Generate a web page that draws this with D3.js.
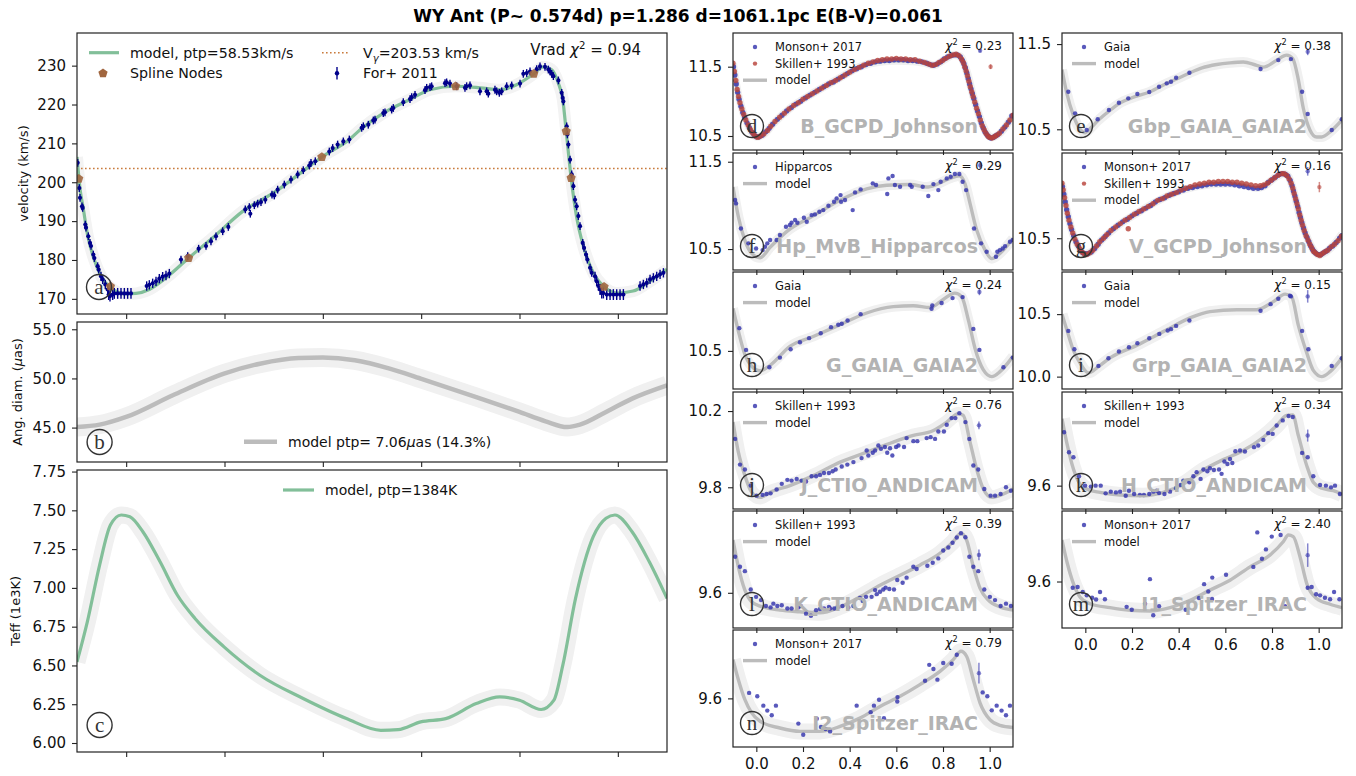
<!DOCTYPE html>
<html><head><meta charset="utf-8">
<script src="https://cdn.jsdelivr.net/npm/d3@7"></script>
<style>body{margin:0;background:#fff}svg text{font-family:"DejaVu Sans",Verdana,sans-serif}</style>
</head><body><svg id="chart" width="1356" height="776"></svg>
<script>
// ---------------- DATA ----------------
const titleText = "WY Ant (P~ 0.574d) p=1.286 d=1061.1pc E(B-V)=0.061";
const phaseTicks = [0.0, 0.2, 0.4, 0.6, 0.8, 1.0];
const vradTicks = [170, 180, 190, 200, 210, 220, 230];
const diamTicks = [45.0, 50.0, 55.0];
const teffTicks = [6.00, 6.25, 6.50, 6.75, 7.00, 7.25, 7.50, 7.75];
const vGamma = 203.53;

const vradModel = [[-0.1,206.5],[-0.093,197.5],[-0.088,193.8],[-0.078,186.1],[-0.065,180.1],[-0.051,175.8],[-0.032,172.9],[-0.015,171.6],[0.0,171.3],[0.02,171.4],[0.047,172.4],[0.081,175.4],[0.127,180.5],[0.176,185.7],[0.237,192.5],[0.305,197.7],[0.359,202.8],[0.398,206.5],[0.454,211.0],[0.476,213.5],[0.523,217.8],[0.577,221.3],[0.618,223.8],[0.670,224.7],[0.72,224.3],[0.76,223.8],[0.794,225.1],[0.829,227.9],[0.848,229.7],[0.865,229.0],[0.879,225.5],[0.888,221.3],[0.895,213.1],[0.905,201.1],[0.916,191.2],[0.93,183.5],[0.95,176.7],[0.972,173.1],[0.998,171.5],[1.031,172.0],[1.065,174.5],[1.1,177.6]];
const vradNodes = [[-0.0965,200.9],[-0.032,173.2],[0.127,180.5],[0.398,206.5],[0.670,224.7],[0.829,227.9],[0.895,213.1],[0.905,201.1],[0.972,173.1]];
const vradData = [[-0.0986,205.0,1],[-0.0953,198.5,1],[-0.0939,196.0,1],[-0.0898,193.8,1],[-0.0885,193.4,1],[-0.0831,189.1,1],[-0.0817,188.3,1],[-0.077,186.1,1],[-0.0736,184.4,1],[-0.0715,183.6,1],[-0.0668,181.4,1],[-0.0647,180.5,1],[-0.058,178.4,1],[-0.0559,177.5,1],[-0.0512,175.8,1.2],[-0.0478,175.0,1.2],[-0.0424,173.7,1.2],[-0.0376,172.4,1.4],[-0.0356,171.1,1.4],[-0.0329,170.7,1.4],[-0.0275,171.1,1.4],[-0.0241,171.4,1.4],[-0.0173,171.4,1.4],[-0.0105,171.4,1.4],[-0.0037,171.4,1.4],[0.003,171.4,1.4],[0.0098,171.4,1.4],[0.0417,173.3,1.2],[0.0471,173.6,1.2],[0.0539,174.0,1.2],[0.0607,174.5,1.2],[0.0674,175.2,1.2],[0.0742,175.7,1.2],[0.081,176.0,1.2],[0.0878,176.5,1.2],[0.1115,180.1,1],[0.1251,181.0,1],[0.1474,182.9,1],[0.1624,183.6,1],[0.1725,184.8,1],[0.1827,186.1,1],[0.1963,187.4,1],[0.2078,188.5,1],[0.2423,193.0,1],[0.2505,193.6,1],[0.2525,191.9,1],[0.2607,194.1,1],[0.2674,194.5,1],[0.2742,194.9,1],[0.283,195.5,1],[0.2966,196.8,1],[0.3013,196.6,1],[0.3081,198.1,1],[0.3217,199.4,1],[0.3352,200.7,1],[0.3488,202.0,1],[0.3603,203.1,1],[0.3725,204.3,1],[0.3759,205.0,1],[0.3847,205.4,1],[0.4132,207.9,1],[0.42,208.8,1],[0.4301,209.7,1],[0.4417,210.5,1],[0.4539,211.0,1],[0.479,214.0,1],[0.4824,214.4,1],[0.4925,214.8,1],[0.5027,215.9,1],[0.5061,216.1,1],[0.523,217.8,1],[0.5264,218.0,1],[0.54,218.7,1],[0.5434,219.1,1],[0.5637,220.6,1],[0.5773,221.4,1],[0.5807,221.9,1],[0.5875,222.5,1],[0.6078,223.7,1],[0.6112,224.3,1],[0.618,224.5,1],[0.6213,224.7,1],[0.6485,225.5,1],[0.6518,225.7,1],[0.6586,225.4,1],[0.6722,224.7,1],[0.6891,224.3,1],[0.6925,224.7,1],[0.6993,224.9,1],[0.7196,223.4,1],[0.7332,223.4,1],[0.7366,222.8,1],[0.7501,223.8,1],[0.7535,223.4,1],[0.759,223.0,1],[0.7637,223.4,1],[0.7739,224.7,1],[0.7841,224.9,1],[0.8011,225.4,1],[0.8078,227.9,1],[0.8146,228.1,1],[0.8214,228.5,1],[0.8349,229.1,1],[0.8417,229.8,1],[0.8519,229.7,1],[0.8587,229.0,1],[0.8621,228.5,1],[0.8655,227.9,1],[0.8689,227.3,1],[0.8791,226.2,1],[0.8858,223.0,1],[0.8879,221.7,1],[0.8892,220.8,1],[0.896,214.4,1],[0.8974,212.3,1],[0.8994,209.7,1],[0.9028,205.8,1],[0.9062,202.0,1],[0.9096,199.0,1],[0.913,195.5,1],[0.9163,193.8,1],[0.9197,191.3,1],[0.9231,188.7,1],[0.9286,184.4,1],[0.9313,183.1,1],[0.9353,181.4,1],[0.938,180.1,1],[0.9435,178.0,1],[0.9469,176.7,1],[0.9536,175.8,1.2],[0.957,174.5,1.2],[0.9604,173.3,1.2],[0.9638,172.4,1.4],[0.9672,171.5,1.4],[0.9706,171.5,1.4],[0.9774,171.1,1.4],[0.9842,171.1,1.4],[0.9909,171.1,1.4],[0.9977,171.1,1.4],[1.0045,171.1,1.4],[1.0113,171.1,1.4],[1.0452,173.3,1.2],[1.052,173.7,1.2],[1.0588,174.1,1.2],[1.0655,175.0,1.2],[1.0723,175.4,1.2],[1.0791,175.8,1.2],[1.0859,176.3,1.2],[1.0927,176.7,1.2]];

const diamModel = [[-0.1,45.06],[-0.054,45.3],[0.0,46.08],[0.095,48.29],[0.199,50.49],[0.272,51.5],[0.351,52.08],[0.40,52.12],[0.465,51.85],[0.536,51.0],[0.599,49.98],[0.712,48.11],[0.8,46.59],[0.853,45.64],[0.897,45.06],[0.923,45.3],[0.976,46.59],[1.029,47.95],[1.1,49.3]];
const teffModel = [[-0.1,6.523],[-0.079,6.781],[-0.054,7.147],[-0.032,7.405],[-0.01,7.47],[0.0076,7.459],[0.034,7.362],[0.069,7.168],[0.104,6.954],[0.14,6.803],[0.199,6.62],[0.272,6.437],[0.36,6.287],[0.448,6.158],[0.518,6.082],[0.553,6.086],[0.599,6.136],[0.65,6.157],[0.712,6.254],[0.76,6.297],[0.80,6.276],[0.844,6.216],[0.87,6.276],[0.888,6.5],[0.914,6.932],[0.95,7.33],[0.976,7.449],[0.994,7.47],[1.029,7.362],[1.064,7.168],[1.1,6.932]];

// B_GCPD_Johnson
const bModel = [[-0.1,11.55],[-0.085,11.22],[-0.065,10.93],[-0.042,10.71],[-0.02,10.56],[0.0,10.49],[0.03,10.52],[0.073,10.68],[0.144,10.90],[0.244,11.12],[0.344,11.31],[0.444,11.50],[0.53,11.57],[0.60,11.585],[0.673,11.58],[0.73,11.545],[0.76,11.52],[0.80,11.59],[0.845,11.67],[0.873,11.65],[0.90,11.45],[0.93,11.07],[0.96,10.75],[0.987,10.54],[1.009,10.48],[1.044,10.54],[1.1,10.80]];
const bMonson = [[-0.098,11.50],[-0.092,11.38],[-0.086,11.25],[-0.08,11.13],[-0.074,11.03],[-0.066,10.93],[-0.058,10.84],[-0.05,10.77],[-0.04,10.69],[-0.03,10.62],[-0.02,10.56],[-0.01,10.52],[0.0,10.49],[0.012,10.49],[0.025,10.51],[0.04,10.56],[0.055,10.61],[0.07,10.67],[0.09,10.74],[0.11,10.80],[0.13,10.86],[0.15,10.91],[0.17,10.96],[0.19,11.00],[0.21,11.05],[0.23,11.09],[0.25,11.13],[0.27,11.17],[0.29,11.21],[0.31,11.25],[0.33,11.28],[0.35,11.32],[0.37,11.36],[0.39,11.40],[0.41,11.44],[0.43,11.47],[0.45,11.50],[0.47,11.53],[0.49,11.55],[0.51,11.57],[0.53,11.58],[0.55,11.59],[0.57,11.59],[0.59,11.60],[0.61,11.60],[0.63,11.60],[0.65,11.59],[0.67,11.59],[0.69,11.58],[0.71,11.57],[0.73,11.55],[0.745,11.53],[0.76,11.52],[0.775,11.54],[0.79,11.57],[0.805,11.61],[0.82,11.64],[0.835,11.66],[0.85,11.67],[0.862,11.67],[0.874,11.64],[0.883,11.59],[0.89,11.54],[0.896,11.48],[0.902,11.41],[0.908,11.33],[0.914,11.25],[0.92,11.18],[0.926,11.11],[0.932,11.04],[0.94,10.95],[0.948,10.86],[0.956,10.78],[0.964,10.69],[0.972,10.62],[0.98,10.56],[0.988,10.52],[0.996,10.49],[1.005,10.47],[1.015,10.48],[1.025,10.50],[1.035,10.52],[1.05,10.57],[1.065,10.63],[1.08,10.70],[1.095,10.79]];
const bSkillen = [[-0.1,11.55],[-0.094,11.43],[-0.088,11.30],[-0.082,11.17],[-0.076,11.07],[-0.07,10.98],[-0.062,10.89],[-0.054,10.81],[-0.045,10.73],[-0.035,10.66],[-0.025,10.59],[-0.015,10.54],[-0.005,10.50],[0.006,10.48],[0.018,10.50],[0.032,10.53],[0.048,10.58],[0.062,10.64],[0.08,10.71],[0.1,10.77],[0.12,10.83],[0.14,10.89],[0.16,10.94],[0.18,10.98],[0.2,11.03],[0.22,11.07],[0.24,11.11],[0.26,11.15],[0.28,11.19],[0.3,11.23],[0.32,11.27],[0.34,11.30],[0.36,11.34],[0.38,11.38],[0.4,11.42],[0.42,11.46],[0.44,11.49],[0.46,11.52],[0.48,11.55],[0.5,11.57],[0.52,11.59],[0.54,11.60],[0.56,11.61],[0.58,11.61],[0.6,11.62],[0.62,11.61],[0.64,11.61],[0.66,11.60],[0.68,11.60],[0.7,11.58],[0.72,11.56],[0.738,11.54],[0.753,11.52],[0.768,11.53],[0.783,11.56],[0.798,11.59],[0.812,11.62],[0.828,11.65],[0.842,11.67],[0.856,11.68],[0.868,11.66],[0.879,11.61],[0.887,11.56],[0.893,11.50],[0.899,11.44],[0.905,11.37],[0.911,11.29],[0.917,11.21],[0.923,11.14],[0.929,11.07],[0.936,10.99],[0.944,10.90],[0.952,10.82],[0.96,10.73],[0.968,10.65],[0.976,10.59],[0.984,10.54],[0.992,10.50],[1.0,10.48],[1.01,10.47],[1.02,10.49],[1.03,10.51],[1.042,10.54],[1.057,10.60],[1.072,10.66],[1.087,10.73],[1.1,10.80]];
const bErrMonson = [[0.959,11.73,0.02]];
const bErrSkillen = [[1.004,11.50,0.035]];

// Gbp_GAIA_GAIA2
const gbpModel = [[-0.1,11.20],[-0.08,10.93],[-0.051,10.66],[-0.025,10.51],[0.0,10.46],[0.025,10.52],[0.053,10.60],[0.1,10.71],[0.144,10.80],[0.2,10.87],[0.277,10.94],[0.35,11.04],[0.391,11.09],[0.446,11.16],[0.5,11.22],[0.563,11.26],[0.62,11.28],[0.677,11.29],[0.734,11.25],[0.763,11.23],[0.82,11.31],[0.863,11.37],[0.889,11.33],[0.913,11.08],[0.934,10.75],[0.963,10.49],[0.991,10.41],[1.013,10.41],[1.049,10.47],[1.1,10.61]];
const gbpGaia = [[-0.073,10.941],[-0.044,10.687],[0.006,10.492],[0.053,10.617],[0.101,10.726],[0.144,10.812],[0.184,10.863],[0.223,10.914],[0.274,10.937],[0.316,11.0],[0.349,11.039],[0.367,11.058],[0.389,11.105],[0.446,11.164],[0.751,11.207],[0.827,11.312],[0.881,11.324],[0.929,10.941],[0.953,10.679],[1.056,10.492],[1.099,10.617]];
const gbpErr = [[0.953,11.41,0.04]];

// Hp_MvB_Hipparcos
const hpModel = [[-0.1,11.21],[-0.077,10.87],[-0.049,10.60],[-0.02,10.45],[0.016,10.40],[0.059,10.52],[0.13,10.70],[0.244,10.88],[0.359,11.06],[0.473,11.19],[0.559,11.23],[0.659,11.24],[0.73,11.21],[0.773,11.24],[0.83,11.31],[0.87,11.34],[0.894,11.25],[0.916,11.02],[0.944,10.72],[0.98,10.49],[1.009,10.39],[1.044,10.45],[1.1,10.62]];
const hpHipparcos = [[-0.091,11.061],[-0.087,11.023],[-0.066,10.736],[-0.034,10.565],[-0.001,10.507],[0.027,10.488],[0.037,10.526],[0.047,10.565],[0.059,10.603],[0.087,10.603],[0.101,10.66],[0.127,10.755],[0.144,10.775],[0.151,10.801],[0.166,10.832],[0.176,10.801],[0.204,10.859],[0.216,10.813],[0.237,10.889],[0.251,10.897],[0.27,10.927],[0.287,10.946],[0.309,10.996],[0.333,11.042],[0.344,11.08],[0.361,11.118],[0.363,11.042],[0.38,11.061],[0.413,10.946],[0.423,11.149],[0.447,11.183],[0.499,11.252],[0.513,11.233],[0.561,11.13],[0.566,11.309],[0.584,11.336],[0.594,11.233],[0.616,11.214],[0.659,11.233],[0.666,11.214],[0.713,11.214],[0.737,11.107],[0.759,11.244],[0.78,11.175],[0.79,11.271],[0.816,11.309],[0.833,11.328],[0.851,11.359],[0.87,11.359],[0.884,11.271],[0.899,11.175],[0.933,10.736],[0.963,10.565],[0.987,10.469],[1.027,10.412],[1.033,10.469],[1.044,10.488],[1.056,10.507],[1.066,10.534],[1.087,10.584],[1.099,10.603]];
const hpErr = [[0.959,11.46,0.04]];

// V_GCPD_Johnson
const vModel = [[-0.1,11.14],[-0.08,10.83],[-0.059,10.60],[-0.03,10.40],[-0.001,10.32],[0.027,10.345],[0.07,10.48],[0.134,10.636],[0.22,10.79],[0.32,10.947],[0.42,11.063],[0.534,11.125],[0.62,11.135],[0.677,11.118],[0.734,11.083],[0.763,11.10],[0.82,11.219],[0.849,11.25],[0.87,11.219],[0.891,11.063],[0.92,10.75],[0.949,10.519],[0.977,10.364],[1.003,10.306],[1.034,10.345],[1.07,10.44],[1.1,10.55]];
const vMonson = [[-0.098,11.10],[-0.092,11.01],[-0.086,10.92],[-0.08,10.83],[-0.073,10.75],[-0.066,10.67],[-0.059,10.60],[-0.05,10.53],[-0.04,10.46],[-0.03,10.41],[-0.02,10.36],[-0.01,10.33],[0.0,10.32],[0.012,10.32],[0.025,10.34],[0.04,10.38],[0.055,10.43],[0.07,10.48],[0.085,10.52],[0.1,10.56],[0.12,10.61],[0.14,10.65],[0.16,10.69],[0.18,10.72],[0.2,10.76],[0.22,10.79],[0.24,10.82],[0.26,10.85],[0.28,10.88],[0.3,10.92],[0.32,10.95],[0.34,10.97],[0.36,11.0],[0.38,11.02],[0.4,11.04],[0.42,11.06],[0.44,11.08],[0.46,11.09],[0.48,11.10],[0.5,11.11],[0.52,11.12],[0.54,11.13],[0.56,11.13],[0.58,11.13],[0.6,11.13],[0.62,11.13],[0.64,11.12],[0.66,11.11],[0.68,11.10],[0.7,11.09],[0.72,11.08],[0.74,11.08],[0.755,11.09],[0.77,11.11],[0.785,11.15],[0.8,11.18],[0.815,11.21],[0.83,11.24],[0.845,11.25],[0.858,11.24],[0.868,11.22],[0.878,11.17],[0.886,11.11],[0.892,11.05],[0.898,10.99],[0.904,10.93],[0.91,10.87],[0.916,10.80],[0.922,10.74],[0.928,10.68],[0.935,10.62],[0.942,10.56],[0.95,10.51],[0.958,10.46],[0.966,10.41],[0.974,10.37],[0.982,10.34],[0.99,10.32],[1.0,10.31],[1.01,10.31],[1.02,10.33],[1.032,10.35],[1.046,10.38],[1.06,10.41],[1.075,10.45],[1.09,10.50],[1.1,10.53]];
const vSkillen = [[-0.1,11.14],[-0.095,11.06],[-0.089,10.97],[-0.083,10.88],[-0.077,10.79],[-0.07,10.71],[-0.062,10.63],[-0.054,10.56],[-0.045,10.49],[-0.035,10.43],[-0.025,10.38],[-0.015,10.34],[-0.005,10.32],[0.006,10.31],[0.018,10.33],[0.032,10.36],[0.048,10.41],[0.062,10.46],[0.078,10.50],[0.092,10.54],[0.11,10.59],[0.13,10.63],[0.15,10.67],[0.17,10.71],[0.184,10.61],[0.19,10.74],[0.21,10.78],[0.23,10.81],[0.25,10.84],[0.27,10.87],[0.29,10.90],[0.31,10.94],[0.33,10.96],[0.35,10.99],[0.37,11.01],[0.39,11.03],[0.41,11.06],[0.43,11.08],[0.45,11.10],[0.47,11.12],[0.49,11.13],[0.51,11.14],[0.53,11.15],[0.55,11.15],[0.57,11.16],[0.59,11.16],[0.61,11.16],[0.63,11.15],[0.65,11.15],[0.67,11.14],[0.69,11.13],[0.71,11.12],[0.73,11.11],[0.75,11.11],[0.765,11.12],[0.78,11.14],[0.795,11.17],[0.81,11.20],[0.825,11.23],[0.84,11.25],[0.852,11.25],[0.863,11.23],[0.873,11.19],[0.882,11.14],[0.889,11.08],[0.895,11.02],[0.901,10.96],[0.907,10.90],[0.913,10.84],[0.919,10.77],[0.925,10.71],[0.931,10.65],[0.938,10.59],[0.946,10.53],[0.954,10.48],[0.962,10.43],[0.97,10.39],[0.978,10.35],[0.986,10.33],[0.995,10.31],[1.005,10.30],[1.015,10.32],[1.026,10.34],[1.039,10.36],[1.053,10.40],[1.068,10.43],[1.083,10.47],[1.097,10.52]];
const vErrMonson = [[0.953,11.277,0.05]];
const vErrSkillen = [[1.003,11.094,0.06]];

// G_GAIA_GAIA2
const gModel = [[-0.1,10.97],[-0.077,10.72],[-0.049,10.46],[-0.02,10.33],[0.016,10.28],[0.059,10.34],[0.144,10.55],[0.244,10.66],[0.359,10.79],[0.473,10.92],[0.587,10.99],[0.673,11.0],[0.744,10.98],[0.801,11.07],[0.851,11.14],[0.88,11.10],[0.909,10.84],[0.937,10.53],[0.973,10.29],[1.009,10.215],[1.044,10.27],[1.1,10.44]];
const gGaia = [[-0.073,10.752],[-0.044,10.511],[0.056,10.319],[0.101,10.426],[0.147,10.519],[0.187,10.596],[0.226,10.641],[0.276,10.696],[0.32,10.763],[0.351,10.789],[0.366,10.80],[0.391,10.837],[0.447,10.907],[0.751,10.967],[0.754,11.004],[0.794,11.03],[0.841,11.085],[0.884,11.096],[0.93,10.744],[0.956,10.511],[1.059,10.319],[1.099,10.426]];
const gErr = [[0.956,11.152,0.035]];

// Grp_GAIA_GAIA2
const grpModel = [[-0.1,10.5],[-0.077,10.36],[-0.051,10.21],[-0.023,10.11],[0.013,10.03],[0.056,10.08],[0.106,10.15],[0.22,10.25],[0.334,10.36],[0.449,10.47],[0.534,10.52],[0.649,10.535],[0.734,10.535],[0.806,10.60],[0.856,10.66],[0.884,10.64],[0.913,10.41],[0.949,10.19],[0.977,10.05],[1.013,10.0],[1.049,10.04],[1.1,10.15]];
const grpGaia = [[-0.073,10.366],[-0.047,10.219],[0.056,10.086],[0.099,10.147],[0.144,10.201],[0.187,10.235],[0.223,10.267],[0.274,10.307],[0.317,10.342],[0.353,10.369],[0.367,10.38],[0.389,10.406],[0.446,10.449],[0.751,10.527],[0.794,10.58],[0.827,10.623],[0.877,10.647],[0.881,10.642],[0.929,10.366],[0.956,10.219],[1.056,10.086],[1.099,10.147]];
const grpErr = [[0.953,10.642,0.05]];

// J_CTIO_ANDICAM
const jModel = [[-0.1,10.142],[-0.077,9.984],[-0.049,9.861],[-0.02,9.774],[0.016,9.747],[0.059,9.774],[0.144,9.809],[0.244,9.861],[0.359,9.932],[0.473,9.984],[0.587,10.037],[0.673,10.072],[0.759,10.098],[0.816,10.142],[0.866,10.186],[0.887,10.177],[0.916,10.037],[0.944,9.896],[0.973,9.791],[1.009,9.747],[1.059,9.765],[1.1,9.791]];
const jSkillen = [[-0.091,10.054],[-0.07,9.919],[-0.049,9.893],[-0.024,9.809],[0.001,9.756],[0.027,9.76],[0.044,9.765],[0.061,9.768],[0.087,9.788],[0.109,9.818],[0.133,9.839],[0.151,9.835],[0.173,9.844],[0.194,9.835],[0.213,9.83],[0.237,9.858],[0.256,9.858],[0.273,9.865],[0.29,9.875],[0.311,9.875],[0.327,9.884],[0.34,9.893],[0.366,9.909],[0.39,9.919],[0.416,9.932],[0.451,9.953],[0.473,9.993],[0.48,9.967],[0.499,9.981],[0.509,9.993],[0.523,10.019],[0.534,10.002],[0.551,10.011],[0.561,9.981],[0.573,10.005],[0.583,9.967],[0.599,10.011],[0.609,10.019],[0.633,10.011],[0.644,10.058],[0.673,10.042],[0.69,10.042],[0.73,10.058],[0.747,10.063],[0.766,10.054],[0.78,10.093],[0.804,10.093],[0.816,10.128],[0.837,10.163],[0.853,10.163],[0.87,10.189],[0.896,10.142],[0.913,10.054],[0.93,9.914],[0.951,9.893],[0.977,9.791],[1.004,9.756],[1.023,9.756],[1.047,9.765],[1.07,9.8],[1.091,9.782]];
const jErr = [[0.954,10.125,0.02]];

// H_CTIO_ANDICAM
const hModel = [[-0.1,9.878],[-0.077,9.767],[-0.051,9.669],[-0.023,9.607],[0.013,9.583],[0.063,9.572],[0.149,9.561],[0.249,9.558],[0.334,9.572],[0.42,9.607],[0.506,9.665],[0.591,9.708],[0.677,9.746],[0.763,9.801],[0.82,9.85],[0.863,9.892],[0.889,9.894],[0.913,9.808],[0.949,9.683],[0.977,9.614],[1.013,9.589],[1.063,9.579],[1.1,9.565]];
const hSkillen = [[-0.091,9.822],[-0.07,9.739],[-0.051,9.718],[-0.027,9.639],[-0.001,9.6],[0.024,9.596],[0.044,9.6],[0.066,9.6],[0.087,9.568],[0.109,9.575],[0.131,9.572],[0.149,9.575],[0.173,9.558],[0.187,9.579],[0.209,9.565],[0.234,9.561],[0.251,9.561],[0.274,9.565],[0.291,9.575],[0.306,9.579],[0.316,9.569],[0.339,9.565],[0.363,9.575],[0.389,9.589],[0.409,9.603],[0.42,9.621],[0.446,9.614],[0.463,9.639],[0.477,9.656],[0.494,9.628],[0.506,9.667],[0.523,9.66],[0.534,9.672],[0.551,9.665],[0.573,9.667],[0.584,9.649],[0.596,9.7],[0.609,9.69],[0.62,9.711],[0.63,9.694],[0.643,9.743],[0.663,9.746],[0.684,9.742],[0.723,9.76],[0.741,9.767],[0.763,9.79],[0.784,9.818],[0.803,9.815],[0.82,9.85],[0.846,9.871],[0.871,9.889],[0.889,9.885],[0.929,9.736],[0.953,9.718],[0.977,9.639],[1.006,9.603],[1.031,9.6],[1.053,9.593],[1.07,9.6],[1.091,9.565]];
const hErr = [[0.953,9.808,0.025]];

// K_CTIO_ANDICAM
const kModel = [[-0.1,9.795],[-0.077,9.696],[-0.049,9.61],[-0.02,9.567],[0.016,9.551],[0.101,9.536],[0.187,9.53],[0.273,9.526],[0.359,9.548],[0.444,9.585],[0.53,9.628],[0.616,9.665],[0.701,9.702],[0.787,9.746],[0.844,9.789],[0.877,9.82],[0.901,9.795],[0.93,9.696],[0.959,9.616],[0.994,9.573],[1.044,9.548],[1.1,9.536]];
const kSkillen = [[-0.091,9.733],[-0.07,9.696],[-0.049,9.68],[-0.024,9.612],[-0.001,9.585],[0.02,9.573],[0.041,9.551],[0.061,9.546],[0.073,9.56],[0.09,9.551],[0.109,9.554],[0.133,9.542],[0.151,9.542],[0.18,9.546],[0.19,9.551],[0.213,9.523],[0.234,9.515],[0.256,9.536],[0.273,9.54],[0.29,9.542],[0.311,9.548],[0.316,9.542],[0.334,9.542],[0.347,9.546],[0.369,9.551],[0.394,9.546],[0.416,9.551],[0.444,9.581],[0.456,9.57],[0.47,9.585],[0.494,9.585],[0.509,9.61],[0.516,9.595],[0.53,9.604],[0.544,9.612],[0.554,9.619],[0.57,9.614],[0.59,9.612],[0.604,9.647],[0.627,9.637],[0.644,9.656],[0.673,9.696],[0.687,9.688],[0.733,9.7],[0.756,9.711],[0.78,9.727],[0.801,9.756],[0.823,9.767],[0.841,9.785],[0.859,9.804],[0.877,9.82],[0.896,9.805],[0.913,9.733],[0.93,9.696],[0.951,9.68],[0.977,9.612],[1.001,9.585],[1.023,9.573],[1.047,9.551],[1.07,9.56],[1.091,9.551]];
const kErr = [[0.954,9.74,0.02]];

// I1_Spitzer_IRAC
const i1Model = [[-0.1,9.759],[-0.077,9.669],[-0.051,9.592],[-0.023,9.541],[0.02,9.515],[0.106,9.5],[0.191,9.49],[0.277,9.487],[0.363,9.5],[0.449,9.528],[0.534,9.567],[0.62,9.605],[0.706,9.656],[0.791,9.701],[0.849,9.753],[0.87,9.778],[0.891,9.772],[0.92,9.695],[0.949,9.592],[0.991,9.535],[1.049,9.513],[1.1,9.5]];
const i1Monson = [[-0.054,9.576],[-0.033,9.579],[-0.011,9.56],[0.006,9.547],[0.029,9.538],[0.046,9.531],[0.063,9.56],[0.084,9.532],[0.177,9.503],[0.199,9.492],[0.256,9.515],[0.277,9.609],[0.291,9.471],[0.316,9.505],[0.43,9.492],[0.487,9.537],[0.509,9.59],[0.527,9.562],[0.543,9.533],[0.544,9.615],[0.603,9.626],[0.72,9.656],[0.737,9.788],[0.757,9.687],[0.774,9.723],[0.799,9.772],[0.837,9.778],[0.856,9.505],[0.953,9.576],[0.97,9.579],[0.989,9.551],[1.006,9.547],[1.027,9.538],[1.049,9.532],[1.066,9.56],[1.089,9.532]];
const i1Err = [[0.953,9.701,0.045]];

// I2_Spitzer_IRAC
const i2Model = [[-0.1,9.749],[-0.077,9.672],[-0.049,9.595],[-0.02,9.544],[0.016,9.512],[0.101,9.486],[0.187,9.473],[0.273,9.473],[0.359,9.492],[0.444,9.524],[0.53,9.569],[0.616,9.608],[0.701,9.653],[0.787,9.704],[0.844,9.749],[0.877,9.781],[0.901,9.762],[0.93,9.672],[0.959,9.582],[1.001,9.518],[1.044,9.496],[1.1,9.488]];
const i2Monson = [[-0.031,9.621],[0.004,9.608],[0.03,9.572],[0.047,9.553],[0.066,9.535],[0.084,9.572],[0.18,9.503],[0.201,9.46],[0.259,9.522],[0.277,9.49],[0.297,9.482],[0.316,9.473],[0.43,9.572],[0.49,9.547],[0.504,9.572],[0.526,9.595],[0.547,9.524],[0.604,9.588],[0.605,9.605],[0.723,9.668],[0.741,9.729],[0.759,9.713],[0.776,9.672],[0.801,9.736],[0.837,9.733],[0.859,9.768],[0.97,9.623],[0.99,9.608],[1.009,9.554],[1.03,9.572],[1.051,9.553],[1.07,9.535],[1.087,9.572]];
const i2Err = [[0.954,9.697,0.04]];

// ---------------- DRAWING ----------------
const BLUE = "#3434ad", RED = "#b8433b", NAVY = "#00008b", GREEN = "#82bf99", MODELGRAY = "#bcbcbc", BAND = "#f0f0f0";
const svg = d3.select("#chart");
const SERIF = '"Liberation Serif","DejaVu Serif",serif';

svg.append("text").attr("x", 678).attr("y", 22).attr("text-anchor", "middle")
  .attr("font-weight", "bold").attr("font-size", 17).attr("fill", "#000").text(titleText);

function styleAxis(a) {
  a.select(".domain").remove();
  a.selectAll("line").attr("stroke", "#222").attr("stroke-width", 1.1);
  a.selectAll("text").attr("font-size", 15).attr("fill", "#111").attr("font-family", '"DejaVu Sans",sans-serif');
}
function frame(g, w, h) {
  g.append("rect").attr("width", w).attr("height", h).attr("fill", "none").attr("stroke", "#222").attr("stroke-width", 1.2);
}
function letterCircle(g, cx, cy, r, letter) {
  g.append("circle").attr("cx", cx).attr("cy", cy).attr("r", r).attr("fill", "none").attr("stroke", "#333").attr("stroke-width", 1.4);
  g.append("text").attr("x", cx).attr("y", cy).attr("dy", "0.33em").attr("text-anchor", "middle")
    .attr("font-family", SERIF).style("font-family", SERIF).attr("font-size", 21).attr("fill", "#333").text(letter);
}
function clip(g, id, w, h) {
  g.append("clipPath").attr("id", id).append("rect").attr("width", w).attr("height", h);
  return g.append("g").attr("clip-path", `url(#${id})`);
}
function chiText(g, xRight, yBase, prefix, val, fs) {
  const t = g.append("text").attr("x", xRight).attr("y", yBase).attr("text-anchor", "end").attr("font-size", fs).attr("fill", "#111");
  if (prefix) t.append("tspan").text(prefix);
  t.append("tspan").attr("font-style", "italic").text("χ");
  t.append("tspan").attr("font-size", fs * 0.68).attr("dy", -fs * 0.42).text("2");
  t.append("tspan").attr("dy", fs * 0.42).text(" = " + val);
}

// ---- Left column ----
const LX = 77, LW = 590;
const xL = d3.scaleLinear().domain([-0.1, 1.1]).range([0, LW]);

// Panel a: radial velocity
{
  const top = 33, h = 281;
  const g = svg.append("g").attr("transform", `translate(${LX},${top})`);
  const y = d3.scaleLinear().domain([166.1, 238.4]).range([h, 0]);
  const pg = clip(g, "clipA", LW, h);
  const line = d3.line().x(d => xL(d[0])).y(d => y(d[1])).curve(d3.curveMonotoneX);
  pg.append("path").attr("d", line(vradModel)).attr("fill", "none").attr("stroke", "#f3f3f3").attr("stroke-width", 12).attr("stroke-linejoin", "round");
  pg.append("line").attr("x1", 0).attr("x2", LW).attr("y1", y(vGamma)).attr("y2", y(vGamma))
    .attr("stroke", "#c97b3c").attr("stroke-width", 1.6).attr("stroke-dasharray", "1.6,2.4");
  pg.append("path").attr("d", line(vradModel)).attr("fill", "none").attr("stroke", GREEN).attr("stroke-width", 3.2);
  pg.selectAll(".eb").data(vradData).join("line").attr("class", "eb")
    .attr("x1", d => xL(d[0])).attr("x2", d => xL(d[0])).attr("y1", d => y(d[1] - d[2])).attr("y2", d => y(d[1] + d[2]))
    .attr("stroke", NAVY).attr("stroke-width", 1.4);
  pg.selectAll(".pt").data(vradData).join("circle").attr("class", "pt")
    .attr("cx", d => xL(d[0])).attr("cy", d => y(d[1])).attr("r", 2.1).attr("fill", NAVY);
  const pentagon = { draw(ctx, size) {
    const r = Math.sqrt(size / (2.5 * Math.sin(2 * Math.PI / 5)));
    for (let i = 0; i < 5; i++) { const a = -Math.PI / 2 + i * 2 * Math.PI / 5; const px = r * Math.cos(a), py = r * Math.sin(a); i ? ctx.lineTo(px, py) : ctx.moveTo(px, py); }
    ctx.closePath(); } };
  const pent = d3.symbol().type(pentagon).size(56);
  pg.selectAll(".nd").data(vradNodes).join("path").attr("class", "nd")
    .attr("transform", d => `translate(${xL(d[0])},${y(d[1])})`).attr("d", pent).attr("fill", "#a1663f").attr("fill-opacity", 0.9);
  // legend
  const lg = g.append("g").attr("font-size", 14.2).attr("fill", "#111");
  lg.append("line").attr("x1", 12).attr("x2", 42).attr("y1", 19.7).attr("y2", 19.7).attr("stroke", GREEN).attr("stroke-width", 3.2);
  lg.append("text").attr("x", 53).attr("y", 19.7).attr("dy", "0.36em").text("model, ptp=58.53km/s");
  lg.append("path").attr("transform", "translate(26,40.3)").attr("d", pent).attr("fill", "#a1663f");
  lg.append("text").attr("x", 53).attr("y", 40.3).attr("dy", "0.36em").text("Spline Nodes");
  lg.append("line").attr("x1", 245).attr("x2", 273).attr("y1", 19.7).attr("y2", 19.7).attr("stroke", "#c97b3c").attr("stroke-width", 1.6).attr("stroke-dasharray", "1.6,2.4");
  const vt = lg.append("text").attr("x", 286).attr("y", 19.7).attr("dy", "0.36em");
  vt.append("tspan").text("V");
  vt.append("tspan").attr("font-size", 10).attr("dy", 4).attr("font-style", "italic").text("γ");
  vt.append("tspan").attr("dy", -4).text("=203.53 km/s");
  lg.append("line").attr("x1", 260).attr("x2", 260).attr("y1", 34).attr("y2", 46.6).attr("stroke", NAVY).attr("stroke-width", 1.4);
  lg.append("circle").attr("cx", 260).attr("cy", 40.3).attr("r", 2.2).attr("fill", NAVY);
  lg.append("text").attr("x", 286).attr("y", 40.3).attr("dy", "0.36em").text("For+ 2011");
  chiText(g, 564, 22, "Vrad ", "0.94", 15);
  letterCircle(g, 22, h - 27, 12.5, "a");
  frame(g, LW, h);
  const ya = g.append("g").call(d3.axisLeft(y).tickValues(vradTicks).tickFormat(d3.format("d")).tickSize(5).tickPadding(6)); styleAxis(ya);
  const xa = g.append("g").attr("transform", `translate(0,${h})`).call(d3.axisBottom(xL).tickValues(phaseTicks).tickFormat(() => "").tickSize(5)); styleAxis(xa);
  g.append("text").attr("transform", `translate(-54,${h / 2}) rotate(-90)`).attr("text-anchor", "middle").attr("dy", "0.35em").attr("font-size", 13).attr("fill", "#111").text("velocity (km/s)");
}

// Panel b: angular diameter
{
  const top = 322, h = 140;
  const g = svg.append("g").attr("transform", `translate(${LX},${top})`);
  const y = d3.scaleLinear().domain([41.5, 55.74]).range([h, 0]);
  const pg = clip(g, "clipB", LW, h);
  const line = d3.line().x(d => xL(d[0])).y(d => y(d[1])).curve(d3.curveMonotoneX);
  pg.append("path").attr("d", line(diamModel)).attr("fill", "none").attr("stroke", BAND).attr("stroke-width", 19);
  pg.append("path").attr("d", line(diamModel)).attr("fill", "none").attr("stroke", MODELGRAY).attr("stroke-width", 4.5);
  g.append("line").attr("x1", 167).attr("x2", 200).attr("y1", 119.7).attr("y2", 119.7).attr("stroke", MODELGRAY).attr("stroke-width", 4.5);
  const t = g.append("text").attr("x", 211).attr("y", 119.7).attr("dy", "0.36em").attr("font-size", 14).attr("fill", "#111");
  t.append("tspan").text("model ptp= 7.06");
  t.append("tspan").attr("font-style", "italic").text("μ");
  t.append("tspan").text("as (14.3%)");
  letterCircle(g, 22.6, h - 20, 12.5, "b");
  frame(g, LW, h);
  const ya = g.append("g").call(d3.axisLeft(y).tickValues(diamTicks).tickFormat(d3.format(".1f")).tickSize(5).tickPadding(6)); styleAxis(ya);
  const xa = g.append("g").attr("transform", `translate(0,${h})`).call(d3.axisBottom(xL).tickValues(phaseTicks).tickFormat(() => "").tickSize(5)); styleAxis(xa);
  const lab = g.append("text").attr("transform", `translate(-60,${h / 2}) rotate(-90)`).attr("text-anchor", "middle").attr("dy", "0.35em").attr("font-size", 13).attr("fill", "#111");
  lab.append("tspan").text("Ang. diam. (");
  lab.append("tspan").attr("font-style", "italic").text("μ");
  lab.append("tspan").text("as)");
}

// Panel c: Teff
{
  const top = 470, h = 282;
  const g = svg.append("g").attr("transform", `translate(${LX},${top})`);
  const y = d3.scaleLinear().domain([5.942, 7.76]).range([h, 0]);
  const pg = clip(g, "clipC", LW, h);
  const line = d3.line().x(d => xL(d[0])).y(d => y(d[1])).curve(d3.curveMonotoneX);
  pg.append("path").attr("d", line(teffModel)).attr("fill", "none").attr("stroke", BAND).attr("stroke-width", 17);
  pg.append("path").attr("d", line(teffModel)).attr("fill", "none").attr("stroke", GREEN).attr("stroke-width", 3.2);
  g.append("line").attr("x1", 206).attr("x2", 237).attr("y1", 20).attr("y2", 20).attr("stroke", GREEN).attr("stroke-width", 3.2);
  g.append("text").attr("x", 248).attr("y", 20).attr("dy", "0.36em").attr("font-size", 14).attr("fill", "#111").text("model, ptp=1384K");
  letterCircle(g, 22.6, h - 27, 12.5, "c");
  frame(g, LW, h);
  const ya = g.append("g").call(d3.axisLeft(y).tickValues(teffTicks).tickFormat(d3.format(".2f")).tickSize(5).tickPadding(6)); styleAxis(ya);
  const xa = g.append("g").attr("transform", `translate(0,${h})`).call(d3.axisBottom(xL).tickValues(phaseTicks).tickFormat(() => "").tickSize(5)); styleAxis(xa);
  g.append("text").attr("transform", `translate(-62,${h / 2}) rotate(-90)`).attr("text-anchor", "middle").attr("dy", "0.35em").attr("font-size", 13).attr("fill", "#111").text("Teff (1e3K)");
}

// ---- Right grid of photometric panels ----
const colX = [733, 1062], rowY = [33, 153, 272, 392, 511, 630], RW = 280, RH = 117;
const xR = d3.scaleLinear().domain([-0.1, 1.1]).range([0, RW]);
const monson = "Monson+ 2017", skillen = "Skillen+ 1993";
const rightPanels = [
  { id: "d", col: 0, row: 0, dom: [10.298, 11.986], ticks: [10.5, 11.5], name: "B_GCPD_Johnson", chi: "0.23", model: bModel, band: 8, dense: true,
    series: [{ label: monson, color: BLUE, data: bMonson, err: bErrMonson }, { label: skillen, color: RED, data: bSkillen, err: bErrSkillen }] },
  { id: "e", col: 1, row: 0, dom: [10.257, 11.63], ticks: [10.5, 11.5], name: "Gbp_GAIA_GAIA2", chi: "0.38", model: gbpModel, band: 10,
    series: [{ label: "Gaia", color: BLUE, data: gbpGaia, err: gbpErr }] },
  { id: "f", col: 0, row: 1, dom: [10.26, 11.60], ticks: [10.5, 11.5], name: "Hp_MvB_Hipparcos", chi: "0.29", model: hpModel, band: 10,
    series: [{ label: "Hipparcos", color: BLUE, data: hpHipparcos, err: hpErr }] },
  { id: "g", col: 1, row: 1, dom: [10.131, 11.49], ticks: [10.5], name: "V_GCPD_Johnson", chi: "0.16", model: vModel, band: 8, dense: true,
    series: [{ label: monson, color: BLUE, data: vMonson, err: vErrMonson }, { label: skillen, color: RED, data: vSkillen, err: vErrSkillen }] },
  { id: "h", col: 0, row: 2, dom: [10.078, 11.374], ticks: [10.5], name: "G_GAIA_GAIA2", chi: "0.24", model: gModel, band: 10,
    series: [{ label: "Gaia", color: BLUE, data: gGaia, err: gErr }] },
  { id: "i", col: 1, row: 2, dom: [9.901, 10.837], ticks: [10.0, 10.5], name: "Grp_GAIA_GAIA2", chi: "0.15", model: grpModel, band: 11,
    series: [{ label: "Gaia", color: BLUE, data: grpGaia, err: grpErr }] },
  { id: "j", col: 0, row: 3, dom: [9.686, 10.3], ticks: [9.8, 10.2], name: "J_CTIO_ANDICAM", chi: "0.76", model: jModel, band: 14,
    series: [{ label: skillen, color: BLUE, data: jSkillen, err: jErr }] },
  { id: "k", col: 1, row: 3, dom: [9.503, 9.989], ticks: [9.6], name: "H_CTIO_ANDICAM", chi: "0.34", model: hModel, band: 16,
    series: [{ label: skillen, color: BLUE, data: hSkillen, err: hErr }] },
  { id: "l", col: 0, row: 4, dom: [9.47, 9.902], ticks: [9.6], name: "K_CTIO_ANDICAM", chi: "0.39", model: kModel, band: 16,
    series: [{ label: skillen, color: BLUE, data: kSkillen, err: kErr }] },
  { id: "m", col: 1, row: 4, dom: [9.422, 9.87], ticks: [9.6], name: "I1_Spitzer_IRAC", chi: "2.40", model: i1Model, band: 16, xlabels: true,
    series: [{ label: monson, color: BLUE, data: i1Monson, err: i1Err }] },
  { id: "n", col: 0, row: 5, dom: [9.413, 9.863], ticks: [9.6], name: "I2_Spitzer_IRAC", chi: "0.79", model: i2Model, band: 16, xlabels: true,
    series: [{ label: monson, color: BLUE, data: i2Monson, err: i2Err }] }
];

rightPanels.forEach(p => {
  const g = svg.append("g").attr("transform", `translate(${colX[p.col]},${rowY[p.row]})`);
  const y = d3.scaleLinear().domain(p.dom).range([RH, 0]);
  const pg = clip(g, "clip" + p.id, RW, RH);
  const line = d3.line().x(d => xR(d[0])).y(d => y(d[1])).curve(d3.curveMonotoneX);
  pg.append("path").attr("d", line(p.model)).attr("fill", "none").attr("stroke", BAND).attr("stroke-width", p.band).attr("stroke-linejoin", "round");
  pg.append("path").attr("d", line(p.model)).attr("fill", "none").attr("stroke", MODELGRAY).attr("stroke-width", 3.4);
  g.append("text").attr("x", RW - 35).attr("y", RH - 17).attr("text-anchor", "end").attr("font-weight", "bold")
    .attr("font-size", 19).attr("fill", "#b3b3b3").text(p.name);
  const r = p.dense ? 2.7 : 2.2;
  p.series.forEach(s => {
    pg.selectAll(null).data(s.data).join("circle")
      .attr("cx", d => xR(d[0])).attr("cy", d => y(d[1])).attr("r", r).attr("fill", s.color).attr("fill-opacity", 0.82);
    pg.selectAll(null).data(s.err).join("line")
      .attr("x1", d => xR(d[0])).attr("x2", d => xR(d[0])).attr("y1", d => y(d[1] - d[2])).attr("y2", d => y(d[1] + d[2]))
      .attr("stroke", s.color).attr("stroke-opacity", 0.6).attr("stroke-width", 1.5);
    pg.selectAll(null).data(s.err).join("circle")
      .attr("cx", d => xR(d[0])).attr("cy", d => y(d[1])).attr("r", 2.2).attr("fill", s.color).attr("fill-opacity", 0.6);
  });
  // legend
  const lg = g.append("g").attr("font-size", 11.5).attr("fill", "#111");
  p.series.forEach((s, i) => {
    const cy = 14 + 16.6 * i;
    lg.append("circle").attr("cx", 22).attr("cy", cy).attr("r", 2.2).attr("fill", s.color).attr("fill-opacity", 0.82);
    lg.append("text").attr("x", 42).attr("y", cy).attr("dy", "0.36em").text(s.label);
  });
  const my = 14 + 16.6 * p.series.length;
  lg.append("line").attr("x1", 10).attr("x2", 34).attr("y1", my).attr("y2", my).attr("stroke", MODELGRAY).attr("stroke-width", 3.4);
  lg.append("text").attr("x", 42).attr("y", my).attr("dy", "0.36em").text("model");
  chiText(g, RW - 11, 17, "", p.chi, 12);
  letterCircle(g, 19, RH - 24, 11.5, p.id);
  frame(g, RW, RH);
  const ya = g.append("g").call(d3.axisLeft(y).tickValues(p.ticks).tickFormat(d3.format(".1f")).tickSize(5).tickPadding(6)); styleAxis(ya);
  const xa = g.append("g").attr("transform", `translate(0,${RH})`)
    .call(d3.axisBottom(xR).tickValues(phaseTicks).tickFormat(p.xlabels ? d3.format(".1f") : () => "").tickSize(5).tickPadding(6));
  styleAxis(xa);
});
</script>
</body></html>
